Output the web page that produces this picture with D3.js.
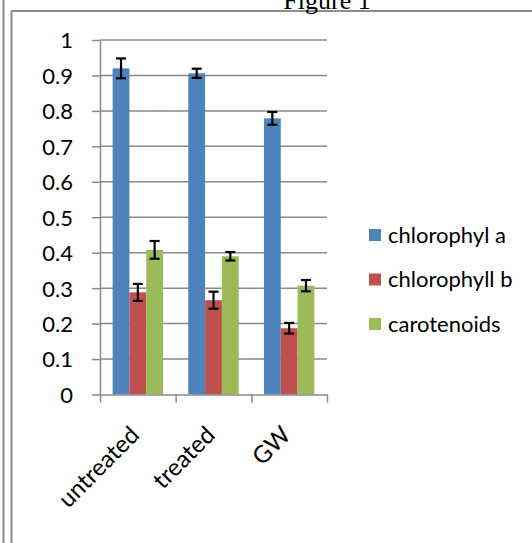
<!DOCTYPE html>
<html>
<head>
<meta charset="utf-8">
<script src="https://cdn.jsdelivr.net/npm/d3@7"></script>
<style>
  body { margin: 0; background: #fff; }
  svg text { font-family: Lato, "Open Sans", sans-serif; fill: #000; }
</style>
</head>
<body>
<svg id="chart" width="532" height="543"></svg>
<script>
// data
const categories = ['untreated', 'treated', 'GW'];
const series = ['chlorophyl a', 'chlorophyll b', 'carotenoids'];
const colors = ['#4F81BD', '#C0504D', '#9BBB59'];
const chlA = [0.92, 0.906, 0.779];
const chlB = [0.288, 0.266, 0.187];
const carot = [0.408, 0.39, 0.307];
const errA = [0.028, 0.013, 0.018];
const errB = [0.024, 0.024, 0.015];
const errC = [0.025, 0.012, 0.016];
const yTicks = [0, 0.1, 0.2, 0.3, 0.4, 0.5, 0.6, 0.7, 0.8, 0.9, 1];

const values = [chlA, chlB, carot];
const errors = [errA, errB, errC];

const svg = d3.select('#chart');
const fs = 22;

// page frame (double rule on the left, rule on top)
const frame = '#8c8c8c';
svg.append('line').attr('x1', 3.5).attr('y1', 0).attr('x2', 3.5).attr('y2', 543).attr('stroke', frame).attr('stroke-width', 2);
svg.append('line').attr('x1', 11.5).attr('y1', 11).attr('x2', 11.5).attr('y2', 543).attr('stroke', frame).attr('stroke-width', 2);
svg.append('line').attr('x1', 11).attr('y1', 11).attr('x2', 532).attr('y2', 11).attr('stroke', frame).attr('stroke-width', 2);

svg.append('text').attr('x', 327).attr('y', 9).attr('text-anchor', 'middle')
  .style('font-family', '"Liberation Serif", serif').attr('font-size', 26).text('Figure 1');

// scales
const plotL = 100, plotR = 327, plotT = 40, plotB = 394.5;
const y = d3.scaleLinear().domain([0, 1]).range([plotB, plotT]);
const x0 = d3.scaleBand().domain(categories).range([plotL, plotR]).padding(0);
const x1 = d3.scaleBand().domain(series).range([0, x0.bandwidth()]).paddingInner(0).paddingOuter(0.75);

// gridlines
svg.append('g').selectAll('line').data(yTicks.slice(1)).join('line')
  .attr('x1', plotL).attr('x2', plotR)
  .attr('y1', d => y(d)).attr('y2', d => y(d))
  .attr('stroke', '#8a8a8a').attr('stroke-width', 1.5);

// y axis
const yAxis = svg.append('g').attr('transform', `translate(${plotL},0)`)
  .call(d3.axisLeft(y).tickValues(yTicks).tickSize(8).tickSizeOuter(0).tickPadding(19)
    .tickFormat(d => String(+d.toFixed(1))));
yAxis.select('.domain').attr('stroke', '#8a8a8a').attr('stroke-width', 1.5);
yAxis.selectAll('.tick line').attr('stroke', '#8a8a8a').attr('stroke-width', 1.5);
yAxis.selectAll('.tick text').attr('font-size', fs).attr('dy', '0.36em');

// bars
const groups = svg.append('g').selectAll('g').data(categories).join('g')
  .attr('transform', d => `translate(${x0(d)},0)`);

groups.selectAll('rect').data((c, i) => series.map((s, j) => ({ s, j, v: values[j][i] })))
  .join('rect')
  .attr('x', d => x1(d.s)).attr('width', x1.bandwidth())
  .attr('y', d => y(d.v)).attr('height', d => y(0) - y(d.v))
  .attr('fill', d => colors[d.j]);

// error bars
const eb = groups.selectAll('g.err').data((c, i) => series.map((s, j) => ({ s, v: values[j][i], e: errors[j][i] })))
  .join('g').attr('class', 'err')
  .attr('transform', d => `translate(${x1(d.s) + x1.bandwidth() / 2},0)`);
eb.append('line').attr('x1', 0).attr('x2', 0).attr('y1', d => y(d.v + d.e)).attr('y2', d => y(d.v - d.e));
eb.append('line').attr('x1', -5).attr('x2', 5).attr('y1', d => y(d.v + d.e)).attr('y2', d => y(d.v + d.e));
eb.append('line').attr('x1', -5).attr('x2', 5).attr('y1', d => y(d.v - d.e)).attr('y2', d => y(d.v - d.e));
eb.selectAll('line').attr('stroke', '#000').attr('stroke-width', 2.2);

// x axis with ticks on category boundaries
const xi = d3.scaleLinear().domain([0, categories.length]).range([plotL, plotR]);
const xAxis = svg.append('g').attr('transform', `translate(0,${plotB})`)
  .call(d3.axisBottom(xi).tickValues(d3.range(categories.length + 1)).tickSize(8).tickSizeOuter(0).tickFormat(''));
xAxis.select('.domain').attr('stroke', '#8a8a8a').attr('stroke-width', 1.5);
xAxis.selectAll('.tick line').attr('stroke', '#8a8a8a').attr('stroke-width', 1.5);

svg.append('g').selectAll('text').data(categories).join('text')
  .attr('transform', d => `translate(${x0(d) + x0.bandwidth() / 2 + 3},${plotB + 42}) rotate(-45)`)
  .attr('text-anchor', 'end').attr('font-size', 24).text(d => d);

// legend
const legend = svg.append('g').selectAll('g').data(series).join('g')
  .attr('transform', (d, i) => `translate(369,${229 + i * 44.5})`);
legend.append('rect').attr('width', 12).attr('height', 12).attr('fill', (d, i) => colors[i]);
legend.append('text').attr('x', 19).attr('y', 6).attr('dy', '0.36em').attr('font-size', fs).text(d => d);
</script>
</body>
</html>
